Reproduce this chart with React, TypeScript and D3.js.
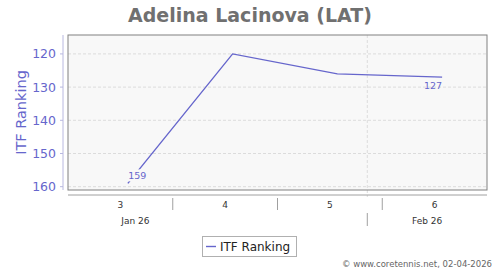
import React from "react";
import * as d3 from "d3";

const dates = ["2026-01-16", "2026-01-23", "2026-01-30", "2026-02-06"];
const rankings = [159, 120, 126, 127];
const labelled = [true, false, false, true];
const yTicks = [120, 130, 140, 150, 160];
const weekStarts = ["2026-01-12", "2026-01-19", "2026-01-26", "2026-02-02"];
const weekLabels = ["3", "4", "5", "6"];
const monthBoundaries = ["2026-02-01"];
const monthLabelDates = ["2026-01-16T12:00", "2026-02-05"];
const monthLabels = ["Jan 26", "Feb 26"];

const W = 500, H = 270;
const M = { left: 68, right: 487, top: 35, bottom: 190 };
const color = "#6666cc";
const font = "DejaVu Sans, sans-serif";

export default function App() {
  const parse = (s: string) => new Date(s.length > 10 ? s : s + "T00:00");
  const x = d3.scaleTime().domain([parse("2026-01-12"), parse("2026-02-09")]).range([M.left, M.right]);
  const y = d3.scaleLinear().domain([114.3, 161]).range([M.top, M.bottom]);
  const pts: [number, number][] = dates.map((d, i) => [x(parse(d)), y(rankings[i])]);
  const line = d3.line()(pts) || "";
  const axisY = 195;
  const weekW = x(parse("2026-01-19")) - x(parse("2026-01-12"));
  return (
    <svg width={W} height={H} style={{ display: "block", position: "absolute", left: 0, top: 0 }} fontFamily={font}>
      <rect width={W} height={H} fill="#fff" />
      <text x={250} y={22} textAnchor="middle" fontSize={19} fontWeight="bold" fill="#707070">Adelina Lacinova (LAT)</text>
      <rect x={M.left} y={M.top} width={M.right - M.left} height={M.bottom - M.top} fill="#f8f8f8" />
      {yTicks.map((t) => (
        <line key={t} x1={M.left} x2={M.right} y1={y(t)} y2={y(t)} stroke="#dcdcdc" strokeDasharray="3,2" />
      ))}
      {monthBoundaries.map((d) => (
        <line key={d} x1={x(parse(d))} x2={x(parse(d))} y1={M.top} y2={axisY + 2} stroke="#dcdcdc" strokeDasharray="3,2" />
      ))}
      <rect x={M.left} y={M.top} width={M.right - M.left} height={M.bottom - M.top} fill="none" stroke="#808080" strokeWidth={1} />
      <line x1={63} x2={63} y1={M.top} y2={M.bottom} stroke="#b8b8e0" />
      {yTicks.map((t) => (
        <g key={t}>
          <line x1={60} x2={63} y1={y(t)} y2={y(t)} stroke="#b8b8e0" />
          <text x={56} y={y(t) + 4.5} textAnchor="end" fontSize={12.5} fill={color}>{t}</text>
        </g>
      ))}
      <text transform={`translate(26,${(M.top + M.bottom) / 2}) rotate(-90)`} textAnchor="middle" fontSize={14.5} fill={color}>ITF Ranking</text>
      <path d={line} fill="none" stroke={color} strokeWidth={1.4} />
      {pts.map((p, i) =>
        labelled[i] ? (
          i === 0 ? (
            <g key={i}>
              <rect x={p[0]} y={p[1] - 14} width={19} height={12} fill="#f8f8f8" />
              <text x={p[0] + 9.5} y={p[1] - 4} textAnchor="middle" fontSize={9.5} fill={color}>{rankings[i]}</text>
            </g>
          ) : (
            <text key={i} x={p[0] - 9} y={p[1] + 12} textAnchor="middle" fontSize={9.5} fill={color}>{rankings[i]}</text>
          )
        ) : null
      )}
      <line x1={M.left} x2={M.right} y1={axisY} y2={axisY} stroke="#a0a0a0" />
      {weekStarts.map((d, i) => (
        <g key={d}>
          {i > 0 && <line x1={x(parse(d))} x2={x(parse(d))} y1={198} y2={210} stroke="#a0a0a0" />}
          <text x={x(parse(d)) + weekW / 2} y={208} textAnchor="middle" fontSize={9} fill="#333">{weekLabels[i]}</text>
        </g>
      ))}
      {monthBoundaries.map((d) => (
        <line key={d} x1={x(parse(d))} x2={x(parse(d))} y1={213} y2={226} stroke="#a0a0a0" />
      ))}
      {monthLabelDates.map((d, i) => (
        <text key={d} x={x(parse(d))} y={224} textAnchor="middle" fontSize={9} fill="#333">{monthLabels[i]}</text>
      ))}
      <rect x={202.5} y={236.5} width={94} height={20} fill="#fff" stroke="#b0b0b0" />
      <line x1={206} x2={216} y1={246.5} y2={246.5} stroke={color} strokeWidth={1.4} />
      <text x={220} y={251} fontSize={12} fill="#222">ITF Ranking</text>
      <text x={492} y={267} textAnchor="end" fontSize={8.5} fill="#666">© www.coretennis.net, 02-04-2026</text>
    </svg>
  );
}
